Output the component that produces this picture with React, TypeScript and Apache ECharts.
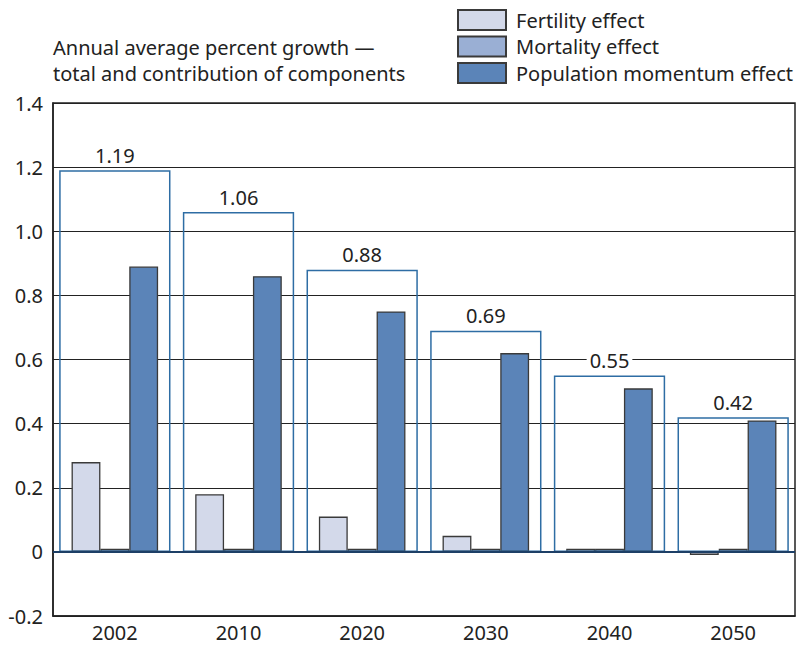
import React, { useEffect, useRef } from "react";
import * as echarts from "echarts";

const categories = ["2002", "2010", "2020", "2030", "2040", "2050"];
const fertility = [0.28, 0.18, 0.11, 0.05, 0.01, -0.01];
const mortality = [0.01, 0.01, 0.01, 0.01, 0.01, 0.01];
const momentum = [0.89, 0.86, 0.75, 0.62, 0.51, 0.41];
const totals = [1.19, 1.06, 0.88, 0.69, 0.55, 0.42];
const legendNames = ["Fertility effect", "Mortality effect", "Population momentum effect"];
const titleLines = ["Annual average percent growth \u2014", "total and contribution of components"];

const FONT = "'Noto Sans', sans-serif";

export default function App() {
  const ref = useRef<HTMLDivElement>(null);
  useEffect(() => {
    if (!ref.current) return;
    const chart = echarts.init(ref.current, null, { renderer: "svg" });
    const barBorder = { borderColor: "#3a3a3a", borderWidth: 1.3 };
    chart.setOption({
      animation: false,
      textStyle: { fontFamily: FONT },
      title: {
        text: titleLines.join("\n"),
        left: 48,
        top: 29,
        textStyle: { fontSize: 20, fontWeight: "normal", color: "#222", lineHeight: 26, fontFamily: FONT },
      },
      legend: {
        orient: "vertical",
        left: 457,
        top: 9,
        padding: 0,
        itemWidth: 48,
        itemHeight: 20,
        itemGap: 4.5,
        icon: "rect",
        data: legendNames,
        textStyle: { fontSize: 20, lineHeight: 20, color: "#222", padding: [0, 0, 0, 5], fontFamily: FONT },
      },
      grid: {
        left: 53,
        right: 10,
        top: 103,
        bottom: 31,
        show: true,
        borderColor: "#222",
        borderWidth: 1.5,
        backgroundColor: "transparent",
      },
      xAxis: [
        {
          type: "category",
          data: categories,
          position: "bottom",
          axisLine: { show: true, onZero: false, lineStyle: { color: "#222", width: 1.5 } },
          axisTick: { show: false },
          axisLabel: { fontSize: 20, color: "#222", margin: 6, fontFamily: FONT },
        },
        {
          type: "category",
          data: categories,
          show: false,
        },
      ],
      yAxis: {
        type: "value",
        min: -0.2,
        max: 1.4,
        interval: 0.2,
        axisLine: { show: true, lineStyle: { color: "#222", width: 1.5 } },
        axisTick: { show: false },
        splitLine: { show: true, lineStyle: { color: "#222", width: 1.2 } },
        axisLabel: {
          fontSize: 20,
          color: "#222",
          margin: 10,
          fontFamily: FONT,
          formatter: (v: number) => (Math.abs(v) < 1e-9 ? "0" : v.toFixed(1)),
        },
      },
      series: [
        {
          name: legendNames[0],
          type: "bar",
          data: fertility,
          barGap: "0%",
          barCategoryGap: "30%",
          itemStyle: { color: "#d3d9ea", ...barBorder },
        },
        {
          name: legendNames[1],
          type: "bar",
          data: mortality,
          itemStyle: { color: "#9aafd4", ...barBorder },
        },
        {
          name: legendNames[2],
          type: "bar",
          data: momentum,
          itemStyle: { color: "#5b84b8", ...barBorder },
        },
        {
          name: "Total",
          type: "bar",
          xAxisIndex: 1,
          data: totals,
          barWidth: "90%",
          z: 3,
          itemStyle: { color: "rgba(0,0,0,0)", borderColor: "#2e6da4", borderWidth: 1.5 },
          label: {
            show: true,
            position: "top",
            distance: 5,
            fontSize: 20,
            color: "#222",
            fontFamily: FONT,
            backgroundColor: "#fff",
            padding: [0, 3],
            formatter: (p: any) => Number(p.value).toFixed(2),
          },
          markLine: {
            silent: true,
            symbol: "none",
            label: { show: false },
            lineStyle: { color: "#1d3f66", width: 2, type: "solid" },
            data: [{ yAxis: 0 }],
          },
        },
      ],
    });
    return () => chart.dispose();
  }, []);
  return (
    <div
      ref={ref}
      style={{ position: "fixed", left: 0, top: 0, width: 805, height: 647, background: "#fff" }}
    />
  );
}
